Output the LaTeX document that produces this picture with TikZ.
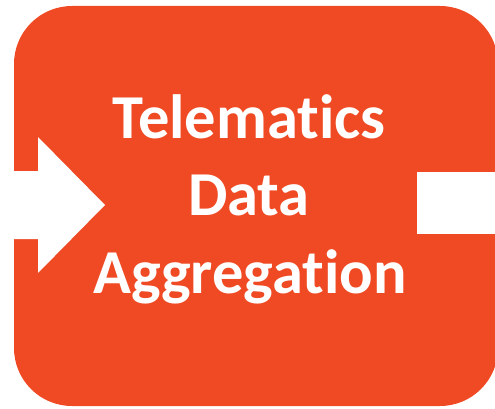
\documentclass[tikz,border=0pt]{standalone}
\usepackage{fontspec}
\setmainfont[Ligatures={NoCommon,NoContextual}]{Carlito}
\definecolor{stageorange}{RGB}{239,74,35}
\begin{document}
\begin{tikzpicture}[x=1pt,y=1pt,
    stagebox/.style={fill=stageorange,draw=none,rounded corners=58pt},
    cutout/.style={fill=white,draw=none},
    stagetitle/.style={text=white,font=\bfseries\fontsize{62.5}{77.5}\selectfont,align=center,inner sep=0pt}]
  \useasboundingbox (0,0) rectangle (495,408);
  \begin{scope}
    \clip (0,0) rectangle (495,408);
    % process block
    \fill[stagebox] (14,2) rectangle (498,402);
    % incoming arrow on the left
    \fill[cutout] (0,237) -- (38,237) -- (38,271) -- (105,203) -- (38,135) -- (38,169) -- (0,169) -- cycle;
    % outgoing port on the right
    \fill[cutout] (417,236) rectangle (496,174);
  \end{scope}
  \node[stagetitle,anchor=base] (title) at (249,270) {Telematics};
  \node[stagetitle,anchor=base] (title2) at (249,192.5) {Data};
  \node[stagetitle,anchor=base] (title3) at (250,115) {Aggregation};
\end{tikzpicture}
\end{document}
